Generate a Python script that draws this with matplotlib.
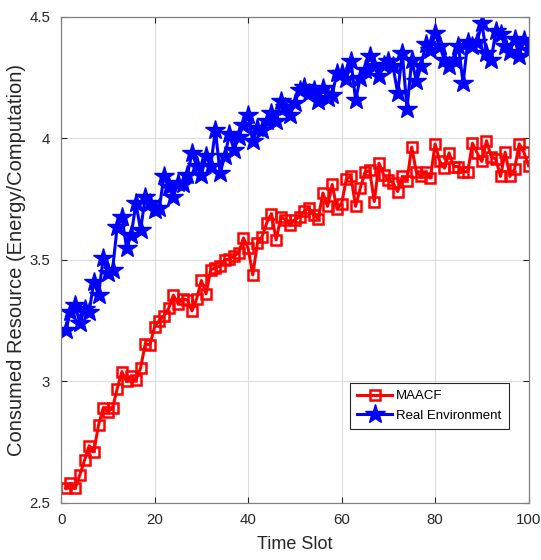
import matplotlib
matplotlib.use("Agg")
import matplotlib.pyplot as plt

time_slot = list(range(1, 101))

maacf = [2.56, 2.58, 2.56, 2.615, 2.675, 2.735, 2.71, 2.82, 2.89, 2.875,
         2.89, 2.97, 3.04, 3.0, 3.02, 3.005, 3.055, 3.155, 3.15, 3.225,
         3.25, 3.27, 3.30, 3.355, 3.32, 3.34, 3.335, 3.29, 3.34, 3.415,
         3.36, 3.46, 3.466, 3.475, 3.50, 3.503, 3.514, 3.53, 3.59, 3.548,
         3.438, 3.57, 3.596, 3.653, 3.69, 3.582, 3.676, 3.665, 3.644, 3.665,
         3.676, 3.699, 3.713, 3.685, 3.669, 3.775, 3.72, 3.81, 3.71, 3.73,
         3.832, 3.843, 3.72, 3.795, 3.86, 3.868, 3.74, 3.898, 3.85, 3.83,
         3.816, 3.781, 3.843, 3.826, 3.964, 3.86, 3.843, 3.86, 3.836, 3.977,
         3.905, 3.877, 3.94, 3.884, 3.884, 3.863, 3.863, 3.98, 3.94, 3.905,
         3.99, 3.925, 3.914, 3.843, 3.943, 3.843, 3.873, 3.977, 3.943, 3.887]

real_env = [3.21, 3.287, 3.315, 3.24, 3.296, 3.287, 3.41, 3.356, 3.507, 3.445,
            3.46, 3.637, 3.678, 3.548, 3.603, 3.733, 3.623, 3.76, 3.733, 3.706,
            3.713, 3.843, 3.80, 3.76, 3.816, 3.81, 3.85, 3.94, 3.887, 3.85,
            3.926, 3.887, 4.035, 3.857, 3.926, 4.016, 3.953, 4.007, 4.056, 4.097,
            3.987, 4.042, 4.035, 4.07, 4.104, 4.07, 4.152, 4.13, 4.097, 4.145,
            4.2, 4.213, 4.186, 4.2, 4.152, 4.206, 4.165, 4.18, 4.27, 4.27,
            4.245, 4.32, 4.158, 4.25, 4.28, 4.337, 4.296, 4.255, 4.30, 4.317,
            4.296, 4.186, 4.35, 4.12, 4.323, 4.234, 4.296, 4.39, 4.364, 4.432,
            4.378, 4.323, 4.296, 4.323, 4.378, 4.227, 4.398, 4.378, 4.398, 4.473,
            4.35, 4.323, 4.44, 4.43, 4.378, 4.357, 4.41, 4.34, 4.405, 4.364]

x_ticks = [0, 20, 40, 60, 80, 100]
y_ticks = [2.5, 3, 3.5, 4, 4.5]
y_tick_labels = ['2.5', '3', '3.5', '4', '4.5']

plt.rcParams['font.family'] = ['Liberation Sans', 'DejaVu Sans']

fig = plt.figure(figsize=(5.41, 5.60), dpi=100)
ax = fig.add_axes([0.113, 0.102, 0.864, 0.868])

ax.plot(time_slot, maacf, '-', color='#ff0000', lw=2.2, marker='s', ms=7,
        mfc='none', mec='#ff0000', mew=1.8, label='MAACF')
ax.plot(time_slot, real_env, '-', color='#0000ff', lw=2.2, marker='*', ms=15,
        mfc='#0000ff', mec='#0000ff', mew=1.0, label='Real Environment')

ax.set_xlim(0, 100)
ax.set_ylim(2.5, 4.5)
ax.set_xticks(x_ticks)
ax.set_yticks(y_ticks)
ax.set_yticklabels(y_tick_labels)
ax.grid(True, color='#dcdcdc', lw=0.8)
ax.set_axisbelow(True)
ax.tick_params(direction='in', top=True, right=True, labelsize=10.8,
               colors='#262626', length=4, width=0.8)
ax.tick_params(axis='x', pad=7)
ax.tick_params(axis='y', pad=8)
for s in ax.spines.values():
    s.set_color('#808080')
    s.set_linewidth(0.9)

ax.set_xlabel('Time Slot', fontsize=13, color='#262626')
ax.xaxis.set_label_coords(0.5, -0.068)
ax.set_ylabel('Consumed Resource (Energy/Computation)', fontsize=14.5,
              color='#262626')
ax.yaxis.set_label_coords(-0.076, 0.5)

leg = ax.legend(loc='lower right', bbox_to_anchor=(0.972, 0.138), fontsize=9.5,
                frameon=True, fancybox=False, edgecolor='#262626',
                handlelength=2.6, borderpad=0.55, labelspacing=0.55,
                handletextpad=0.35, framealpha=1)
leg.get_frame().set_linewidth(0.8)

fig.savefig('out.png', dpi=100)
